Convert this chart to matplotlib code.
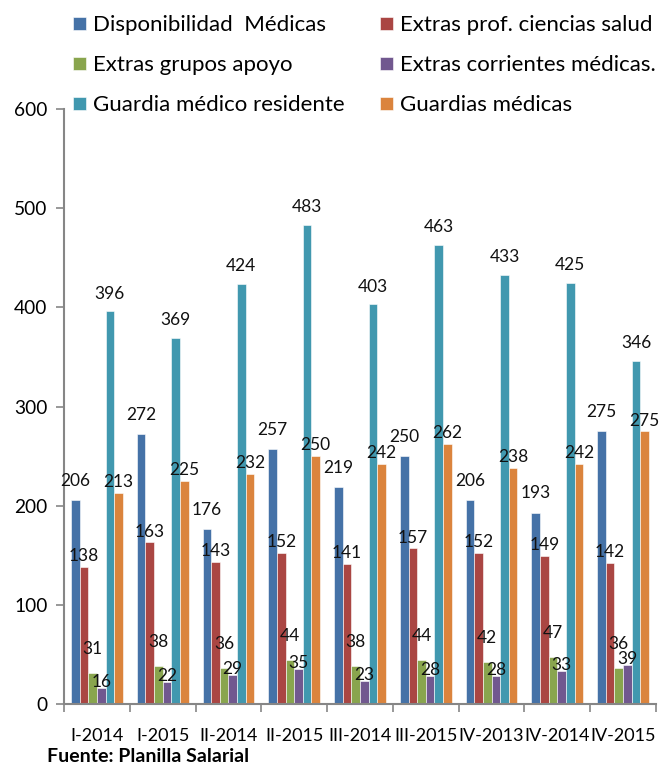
import numpy as np
from matplotlib import pyplot as plt

plt.rcParams['font.family'] = ['Lato', 'DejaVu Sans']

periodos = ["I-2014", "I-2015", "II-2014", "II-2015", "III-2014",
            "III-2015", "IV-2013", "IV-2014", "IV-2015"]

disponibilidad = [206, 272, 176, 257, 219, 250, 206, 193, 275]
extras_prof = [138, 163, 143, 152, 141, 157, 152, 149, 142]
extras_apoyo = [31, 38, 36, 44, 38, 44, 42, 47, 36]
extras_corrientes = [16, 22, 29, 35, 23, 28, 28, 33, 39]
guardia_residente = [396, 369, 424, 483, 403, 463, 433, 425, 346]
guardias_medicas = [213, 225, 232, 250, 242, 262, 238, 242, 275]

series = [
    ("Disponibilidad  Médicas", disponibilidad, "#4572A7"),
    ("Extras prof. ciencias salud", extras_prof, "#AA4643"),
    ("Extras grupos apoyo", extras_apoyo, "#89A54E"),
    ("Extras corrientes médicas.", extras_corrientes, "#71588F"),
    ("Guardia médico residente", guardia_residente, "#4198AF"),
    ("Guardias médicas", guardias_medicas, "#DB843D"),
]
# label lift above each bar (points), per series, as in the original layout
lift = [8, 2, 12, -1, 7, 2]

fig = plt.figure(figsize=(6.66, 7.65), dpi=100)
ax = fig.add_axes([64 / 666, 61 / 765, 592 / 666, 595 / 765])

x = np.arange(len(periodos))
w = 0.131
handles = []
for i, (name, vals, col) in enumerate(series):
    pos = x + (i - 2.5) * w
    b = ax.bar(pos, vals, width=w, color=col, edgecolor="white",
               linewidth=0.4, label=name)
    handles.append(b)
    for px, v in zip(pos, vals):
        ax.annotate(str(v), (px, v), xytext=(0, lift[i]), textcoords="offset points",
                    ha="center", va="bottom", fontsize=12.5, color="#111111")

ax.set_xlim(-0.5, len(periodos) - 0.5)
ax.set_ylim(0, 600)
ax.set_yticks(range(0, 601, 100))
ax.set_xticks(x)
ax.set_xticklabels(periodos)
ax.set_xticks(np.arange(-0.5, len(periodos)), minor=True)
ax.tick_params(axis="x", which="major", length=0, labelsize=13, pad=17)
ax.tick_params(axis="x", which="minor", length=6, color="#868686", width=1.2)
ax.tick_params(axis="y", length=6, color="#868686", width=1.2, labelsize=13.8, pad=6)

for s in ["top", "right"]:
    ax.spines[s].set_visible(False)
for s in ["left", "bottom"]:
    ax.spines[s].set_color("#868686")
    ax.spines[s].set_linewidth(1.5)

# legend reads row by row in the original
order = [0, 2, 4, 1, 3, 5]
fig.legend([handles[k] for k in order], [series[k][0] for k in order],
           ncol=2, loc="upper left", bbox_to_anchor=(0.08, 1.006),
           frameon=False, fontsize=16, handlelength=0.55, handleheight=0.55,
           handletextpad=0.35, columnspacing=1.6, labelspacing=0.9)

fig.text(47 / 666, 1 - 757 / 765, "Fuente: Planilla Salarial", fontsize=14,
         fontweight="bold", ha="left", va="center")

fig.savefig("out.png")
